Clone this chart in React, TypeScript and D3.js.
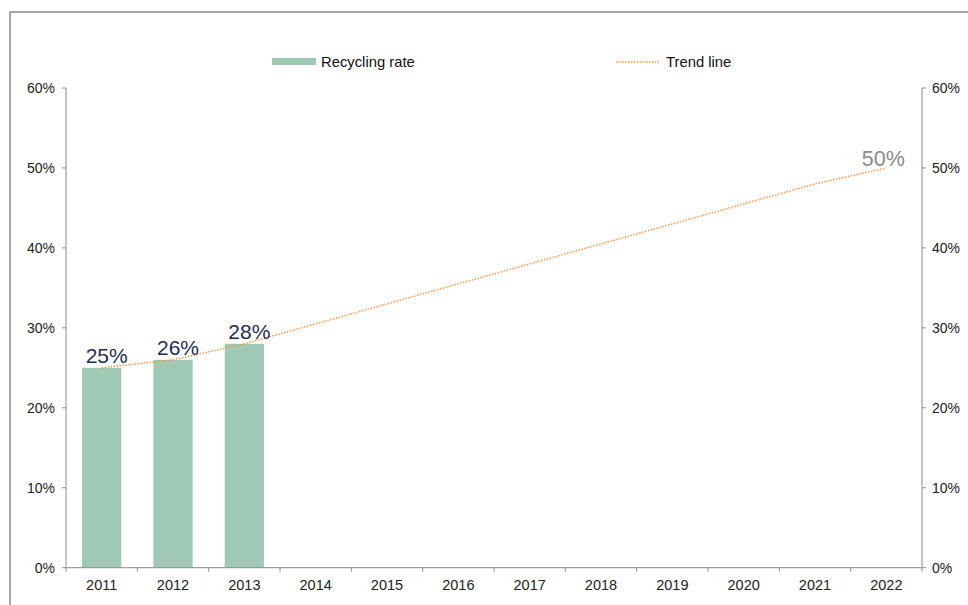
import React from "react";
import * as d3 from "d3";

const years = ["2011","2012","2013","2014","2015","2016","2017","2018","2019","2020","2021","2022"];
const recyclingYears = ["2011","2012","2013"];
const recyclingRate = [0.25, 0.26, 0.28];
const trendValues = [0.25, 0.26, 0.28, 0.305, 0.33, 0.355, 0.38, 0.405, 0.43, 0.455, 0.48, 0.50];
const yTicks = [0, 0.1, 0.2, 0.3, 0.4, 0.5, 0.6];

const W = 968, H = 605;
const left = 66, right = 922, top = 88, bottom = 567.7;
const FONT = "'Liberation Sans', Arial, sans-serif";

export default function App() {
  const x = d3.scaleBand<string>().domain(years).range([left, right]).paddingInner(0).paddingOuter(0);
  const y = d3.scaleLinear().domain([0, 0.6]).range([bottom, top]);
  const bw = x.bandwidth();
  const barW = bw * 0.55;
  const fmt = d3.format(".0%");
  const line = d3.line<number>()
    .x((_, i) => (x(years[i]) as number) + bw / 2)
    .y((d) => y(d));
  const axisColor = "#8c8c8c";
  const lastIdx = years.length - 1;

  return (
    <svg width={W} height={H} style={{ position: "absolute", left: 0, top: 0, background: "#fff" }} fontFamily={FONT}>
      <rect x={10} y={12} width={W + 10} height={H + 10} fill="none" stroke="#8a8a8a" strokeWidth={1.5} />

      {/* legend */}
      <rect x={272} y={58} width={44} height={7} fill="#9fc9b5" />
      <text x={321} y={66.5} fontSize={14.8} fill="#111">Recycling rate</text>
      <line x1={616} x2={659} y1={62} y2={62} stroke="#f79646" strokeWidth={1.3} strokeDasharray="1.5,1.5" />
      <text x={666} y={66.5} fontSize={14.8} fill="#111">Trend line</text>

      {/* bars */}
      {recyclingYears.map((yr, i) => (
        <rect key={yr} x={(x(yr) as number) + (bw - barW) / 2} y={y(recyclingRate[i])} width={barW}
          height={bottom - y(recyclingRate[i])} fill="#9fc9b5" />
      ))}

      {/* axes */}
      <line x1={left} x2={left} y1={top} y2={bottom} stroke={axisColor} strokeWidth={1} />
      <line x1={right} x2={right} y1={top} y2={bottom} stroke={axisColor} strokeWidth={1} />
      <line x1={left} x2={right} y1={bottom} y2={bottom} stroke={axisColor} strokeWidth={1} />
      {yTicks.map((t) => (
        <g key={t}>
          <line x1={left - 4} x2={left} y1={y(t)} y2={y(t)} stroke={axisColor} />
          <line x1={right} x2={right + 4} y1={y(t)} y2={y(t)} stroke={axisColor} />
          <text x={left - 11} y={y(t)} dy="0.35em" textAnchor="end" fontSize={14} fill="#222">{fmt(t)}</text>
          <text x={right + 10} y={y(t)} dy="0.35em" textAnchor="start" fontSize={14} fill="#222">{fmt(t)}</text>
        </g>
      ))}
      {years.map((yr) => (
        <g key={yr}>
          <line x1={x(yr) as number} x2={x(yr) as number} y1={bottom} y2={bottom + 4} stroke={axisColor} />
          <text x={(x(yr) as number) + bw / 2} y={589.5} textAnchor="middle" fontSize={14.5} fill="#222">{yr}</text>
        </g>
      ))}
      <line x1={right} x2={right} y1={bottom} y2={bottom + 4} stroke={axisColor} />

      {/* trend line */}
      <path d={line(trendValues) || ""} fill="none" stroke="#f79646" strokeWidth={1.5} strokeDasharray="1.5,1.5" />

      {/* data labels */}
      {recyclingYears.map((yr, i) => (
        <text key={yr} x={(x(yr) as number) + bw / 2 + 5} y={y(recyclingRate[i]) - 4.5} textAnchor="middle"
          fontSize={21} fill="#1f2d4d">{fmt(recyclingRate[i])}</text>
      ))}
      <text x={(x(years[lastIdx]) as number) + bw / 2 - 3} y={y(trendValues[lastIdx]) - 1.5} textAnchor="middle"
        fontSize={21.5} fill="#8a8a8a">{fmt(trendValues[lastIdx])}</text>
    </svg>
  );
}
